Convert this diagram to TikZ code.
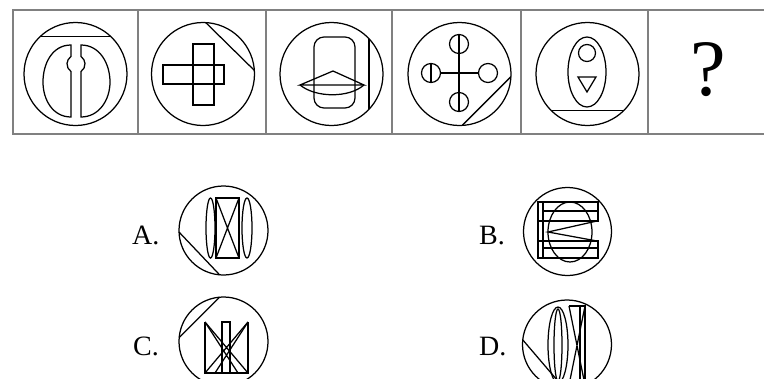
\documentclass[tikz,border=0pt]{standalone}
\usepackage{fontspec}
\setmainfont{Liberation Serif}
\begin{document}
\begin{tikzpicture}[x=1pt,y=-1pt,
  fig/.style={line width=1.25pt, black},
  frame/.style={line width=1.4pt, black!50},
  lab/.style={font=\fontsize{28}{28}\selectfont, anchor=base west, inner sep=0pt}]
\useasboundingbox (0,0) rectangle (764,378);
\clip (0,0) rectangle (764,378);
\fill[white] (0,0) rectangle (764,378);
% frame
\draw[frame] (13,10) rectangle (780,134);
\foreach \x in {138,266,392,521,648} \draw[frame] (\x,10) -- (\x,134);
% centres
\coordinate (c1) at (75.5,74);
\coordinate (c2) at (203,74);
\coordinate (c3) at (331.5,74);
\coordinate (c4) at (459.5,74);
\coordinate (c5) at (587.5,74);
\foreach \c in {c1,c2,c3,c4,c5} \draw[fig] (\c) circle[radius=51.5];
% cell 1
\draw[fig] ([shift={(-133.3:51.5)}]c1) -- ([shift={(-46.7:51.5)}]c1);
\draw[fig] (71,45) .. controls (52,45) and (43,64) .. (43,82) .. controls (43,100) and (53,117) .. (71,117) -- (71,71.5) arc[start angle=123.7, end angle=236.3, radius=9] -- cycle;
\draw[fig] (81,45) .. controls (100,45) and (110,64) .. (110,82) .. controls (110,100) and (99,117) .. (81,117) -- (81,71.5) arc[start angle=56.3, end angle=-56.3, radius=9] -- cycle;
% cell 2
\draw[fig] ([shift={(-87:51.5)}]c2) -- ([shift={(-4:51.5)}]c2);
\draw[fig] (193,44) rectangle (214,105);
\draw[fig] (163,65) rectangle (224,84);
% cell 3
\draw[fig] ([shift={(-43.3:51.5)}]c3) -- ([shift={(43.3:51.5)}]c3);
\draw[fig, rounded corners=10] (314,37) rectangle (355,108);
\draw[fig] (300,85) -- (333,71) -- (364,85) -- cycle;
\draw[fig] (300,85) .. controls (316,98) and (349,98) .. (364,85);
% cell 4
\draw[fig] ([shift={(87:51.5)}]c4) -- ([shift={(3:51.5)}]c4);
\foreach \p in {(459,44),(459,102),(431,73),(488,73)} \draw[fig] \p circle[radius=9.5];
\draw[fig] (459,34.5) -- (459,111.5);
\draw[fig] (440.5,73) -- (478.5,73);
\draw[fig] (431,63.5) -- (431,82.5);
% cell 5
\draw[fig] ([shift={(135:51.5)}]c5) -- ([shift={(45:51.5)}]c5);
\draw[fig] (587,72) ellipse[x radius=19, y radius=35];
\draw[fig] (587,53) circle[radius=8.5];
\draw[fig] (578,77) -- (596,77) -- (587,92) -- cycle;
% question mark
\node[font=\fontsize{80}{80}\selectfont, inner sep=0pt] (q) at (708,70) {?};
% options
\node[lab] (la) at (132,244) {A.};
\node[lab] (lb) at (479,244) {B.};
\node[lab] (lc) at (133,355) {C.};
\node[lab] (ld) at (479,355) {D.};
\coordinate (oa) at (223.5,230.5);
\coordinate (ob) at (567.5,231.5);
\coordinate (oc) at (223.5,341.5);
\coordinate (od) at (567,344.5);
\draw[fig] (oa) circle[radius=44.5];
\draw[fig] (ob) circle[radius=44];
\draw[fig] (oc) circle[radius=44.5];
\draw[fig] (od) circle[radius=44.5];
% A
\draw[fig] ([shift={(178:44.5)}]oa) -- ([shift={(95:44.5)}]oa);
\draw[fig] (216,198) rectangle (239,258);
\draw[fig] (216,198) -- (239,258) (239,198) -- (216,258);
\draw[fig] (210.5,228) ellipse[x radius=4.5, y radius=30];
\draw[fig] (247,228) ellipse[x radius=5, y radius=30];
% B
\draw[fig] (538,202) -- (538,258) (543,202) -- (543,258);
\draw[fig] (538,202) rectangle (598,221);
\draw[fig] (543,211) -- (598,211);
\draw[fig] (538,241) rectangle (598,258);
\draw[fig] (543,248) -- (598,248);
\draw[fig] (570,232) ellipse[x radius=22, y radius=30];
\draw[fig] (597,221) -- (548,232) -- (597,241);
% C
\draw[fig] ([shift={(185:44.5)}]oc) -- ([shift={(265:44.5)}]oc);
\draw[fig] (205,322) -- (205,373) -- (248,373) -- (248,322);
\draw[fig] (222,322) rectangle (230,373);
\draw[fig] (205,322) -- (248,373) (248,322) -- (205,373);
\draw[fig] (205,322) -- (238,373) (248,322) -- (215,373);
% D
\draw[fig] ([shift={(186:44.5)}]od) -- ([shift={(93:44.5)}]od);
\draw[fig] (558,345) ellipse[x radius=10, y radius=38];
\draw[fig] (558,345) ellipse[x radius=4, y radius=36];
\draw[fig] (569,306) -- (585,306) -- (585,385);
\draw[fig] (580,306) -- (580,385);
\draw[fig] (569,306) -- (585,385) (585,306) -- (569,385);
\end{tikzpicture}
\end{document}
